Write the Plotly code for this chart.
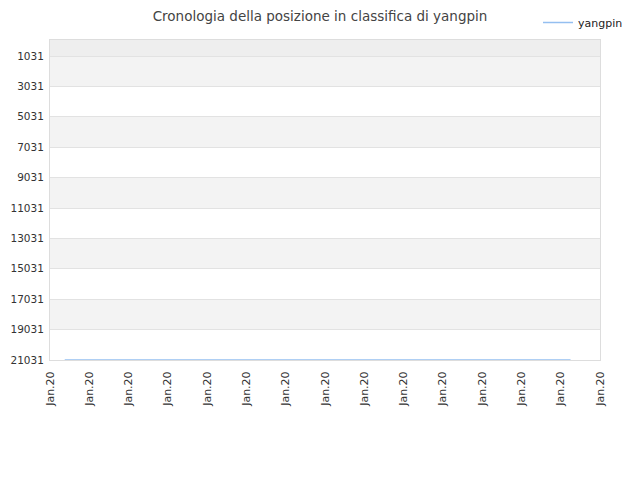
import plotly.graph_objects as go

# Datos
fechas = ["2020-01-01 18:00", "2020-01-05", "2020-01-10", "2020-01-15",
          "2020-01-20", "2020-01-25", "2020-01-27 12:00"]
posiciones = [21031, 21031, 21031, 21031, 21031, 21031, 21031]
ticks_y = [1031, 3031, 5031, 7031, 9031, 11031, 13031, 15031, 17031, 19031, 21031]
fechas_ticks = ["2020-01-%02d" % d for d in range(1, 30, 2)]
etiquetas_x = ["Jan.20"] * len(fechas_ticks)

fig = go.Figure()
fig.add_trace(go.Scatter(
    x=fechas, y=posiciones, mode="lines", name="yangpin",
    line=dict(color="#94bff0", width=1.5)
))

# Bandas alternas
bandas = []
bandas.append(dict(type="rect", xref="paper", yref="y", x0=0, x1=1, y0=-22, y1=ticks_y[0],
                   fillcolor="#eeeeee", line_width=0, layer="below"))
for i in range(len(ticks_y) - 1):
    if i % 2 == 0:
        bandas.append(dict(type="rect", xref="paper", yref="y", x0=0, x1=1,
                           y0=ticks_y[i], y1=ticks_y[i + 1],
                           fillcolor="#f3f3f3", line_width=0, layer="below"))

# la página deja 8px de margen, se compensa aquí
fig.update_layout(
    width=640, height=480,
    title=dict(text="Cronologia della posizione in classifica di yangpin",
               x=(320 - 8) / 640, xanchor="center", y=1 - 8 / 480, yanchor="middle",
               font=dict(size=13.5, color="#444")),
    font=dict(family="DejaVu Sans", size=11, color="#333"),
    plot_bgcolor="white", paper_bgcolor="white",
    margin=dict(l=42, r=48, t=32, b=128, autoexpand=False),
    shapes=bandas,
    showlegend=True,
    legend=dict(x=530 / 640, y=1.04, xref="container", yref="container", xanchor="left", yanchor="top",
                font=dict(size=11, color="#222"), bgcolor="rgba(0,0,0,0)"),
    xaxis=dict(range=["2020-01-01", "2020-01-29"], tickvals=fechas_ticks, ticktext=etiquetas_x,
               tickangle=-90, showgrid=False, showline=True, linecolor="#dddddd", mirror=True,
               ticks="", ticklabelstandoff=6, automargin=False, tickfont=dict(size=11, color="#333")),
    yaxis=dict(range=[21031, -22], tickvals=ticks_y, ticktext=[str(t) for t in ticks_y],
               showgrid=True, gridcolor="#e2e2e2",
               showline=True, linecolor="#dddddd", mirror=True, zeroline=False,
               ticks="", ticklabelstandoff=3, automargin=False, tickfont=dict(size=10.5, color="#333")),
)

fig.write_html("out.html")
